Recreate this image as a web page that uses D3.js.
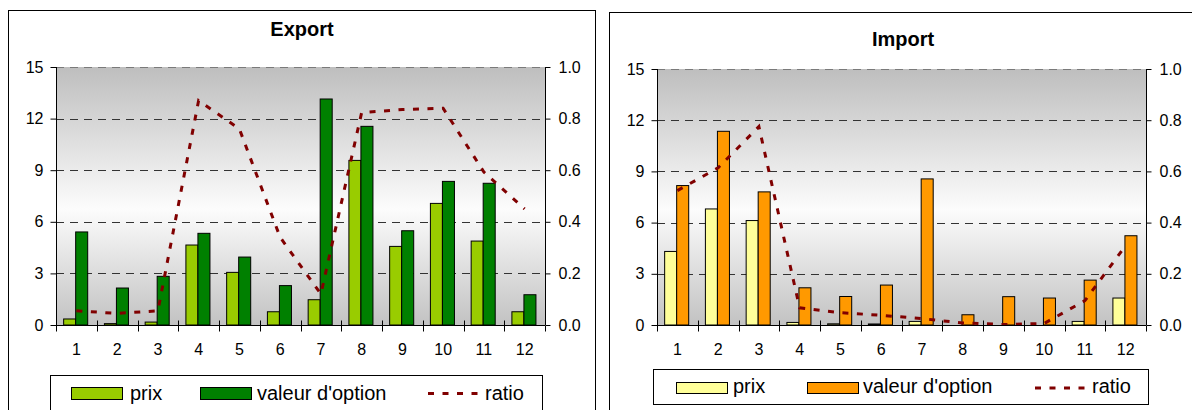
<!DOCTYPE html>
<html>
<head>
<meta charset="utf-8">
<script src="https://cdn.jsdelivr.net/npm/d3@7"></script>
<style>
  html, body { margin: 0; padding: 0; background: #fff; overflow: hidden; }
  svg { display: block; font-family: "Liberation Sans", Arial, sans-serif; }
</style>
</head>
<body>
<svg id="chart" width="1192" height="410"></svg>
<script>
// Months 1..12
const categories = ["1", "2", "3", "4", "5", "6", "7", "8", "9", "10", "11", "12"];

// Export series
const exportPrix   = [0.35, 0.08, 0.17, 4.65, 3.06, 0.77, 1.47, 9.57, 4.57, 7.07, 4.88, 0.77];
const exportValeur = [5.41, 2.15, 2.83, 5.33, 3.95, 2.29, 13.14, 11.55, 5.48, 8.35, 8.24, 1.76];
const exportRatio  = [0.055, 0.045, 0.055, 0.87, 0.76, 0.34, 0.12, 0.823, 0.835, 0.84, 0.593, 0.45];

// Import series
const importPrix   = [4.31, 6.8, 6.12, 0.15, 0.07, 0.06, 0.21, 0.0, 0.0, 0.0, 0.21, 1.58];
const importValeur = [8.17, 11.35, 7.8, 2.18, 1.67, 2.34, 8.56, 0.6, 1.66, 1.58, 2.63, 5.23];
const importRatio  = [0.525, 0.614, 0.775, 0.067, 0.048, 0.038, 0.025, 0.008, 0.002, 0.006, 0.095, 0.31];

// Axis ticks
const valueTicks = [0, 3, 6, 9, 12, 15];
const ratioTicks = [0, 0.2, 0.4, 0.6, 0.8, 1.0];
const legendLabels = ["prix", "valeur d'option", "ratio"];

const svg = d3.select("#chart");
const defs = svg.append("defs");

// Plot-area background: grey at the top, white towards the middle, grey at the bottom
const grad = defs.append("linearGradient")
  .attr("id", "plotBg").attr("x1", 0).attr("y1", 0).attr("x2", 0).attr("y2", 1);
grad.append("stop").attr("offset", "0%").attr("stop-color", "#bebebe");
grad.append("stop").attr("offset", "55%").attr("stop-color", "#fcfcfc");
grad.append("stop").attr("offset", "100%").attr("stop-color", "#c2c2c2");

const RATIO_COLOR = "#800000";

function drawChart(cfg) {
  const g = svg.append("g");
  const p = cfg.plot;

  // Chart frame
  g.append("rect")
    .attr("x", cfg.frame[0]).attr("y", cfg.frame[1])
    .attr("width", cfg.frame[2]).attr("height", cfg.frame[3])
    .attr("fill", "#fff").attr("stroke", "#000").attr("stroke-width", 1);

  // Title
  g.append("text")
    .attr("x", cfg.titleX).attr("y", cfg.titleY)
    .attr("text-anchor", "middle")
    .attr("font-size", 20).attr("font-weight", "bold")
    .text(cfg.title);

  const x = d3.scaleBand().domain(categories).range([p.x0, p.x1]).padding(0);
  const y = d3.scaleLinear().domain([0, 15]).range([p.y1, p.y0]);
  const yr = d3.scaleLinear().domain([0, 1]).range([p.y1, p.y0]);

  // Plot background
  g.append("rect")
    .attr("x", p.x0).attr("y", p.y0)
    .attr("width", p.x1 - p.x0).attr("height", p.y1 - p.y0)
    .attr("fill", "url(#plotBg)");

  // Dashed gridlines
  g.append("g").selectAll("line")
    .data(valueTicks.filter(d => d > 0))
    .join("line")
    .attr("x1", p.x0).attr("x2", p.x1)
    .attr("y1", d => Math.round(y(d)) + 0.5).attr("y2", d => Math.round(y(d)) + 0.5)
    .attr("stroke", d => d === 15 ? "#7a7a7a" : "#333")
    .attr("stroke-width", 1)
    .attr("stroke-dasharray", "8,6");

  // Bars
  const bw = x.bandwidth();
  const barW = bw * 0.295;
  const off = (bw - 2 * barW) / 2 - 0.7;
  const bars = g.append("g");
  bars.selectAll("rect.prix")
    .data(cfg.prix)
    .join("rect").attr("class", "prix")
    .attr("x", (d, i) => x(categories[i]) + off)
    .attr("y", d => y(d))
    .attr("width", barW)
    .attr("height", d => y(0) - y(d))
    .attr("fill", cfg.prixColor).attr("stroke", "#000").attr("stroke-width", 1);
  bars.selectAll("rect.valeur")
    .data(cfg.valeur)
    .join("rect").attr("class", "valeur")
    .attr("x", (d, i) => x(categories[i]) + off + barW)
    .attr("y", d => y(d))
    .attr("width", barW)
    .attr("height", d => y(0) - y(d))
    .attr("fill", cfg.valColor).attr("stroke", "#000").attr("stroke-width", 1);

  // Ratio line on the secondary axis
  const line = d3.line()
    .x((d, i) => x(categories[i]) + bw / 2)
    .y(d => yr(d));
  g.append("path")
    .datum(cfg.ratio)
    .attr("d", line)
    .attr("fill", "none")
    .attr("stroke", RATIO_COLOR)
    .attr("stroke-width", 3)
    .attr("stroke-dasharray", "6,8.5");

  // Left axis
  const yAxis = g.append("g")
    .attr("transform", `translate(${Math.round(p.x0) + 0.5},0)`)
    .call(d3.axisLeft(y).tickValues(valueTicks).tickSize(6).tickPadding(7).tickFormat(d3.format("d")));
  // Right axis
  const yrAxis = g.append("g")
    .attr("transform", `translate(${Math.round(p.x1) + 0.5},0)`)
    .call(d3.axisRight(yr).tickValues(ratioTicks).tickSize(5).tickPadding(8).tickFormat(d3.format(".1f")));
  [yAxis, yrAxis].forEach(a => {
    a.select(".domain").remove();
    a.selectAll(".tick line").attr("stroke", "#000");
    a.selectAll("text").attr("font-size", 16).attr("fill", "#000")
      .attr("font-family", "'Liberation Sans', Arial, sans-serif");
    a.append("line").attr("x1", 0).attr("x2", 0).attr("y1", p.y0).attr("y2", p.y1).attr("stroke", "#000");
  });

  // Bottom axis: labels at band centres, tick marks at band edges
  const xAxis = g.append("g")
    .attr("transform", `translate(0,${Math.round(p.y1) + 0.5})`)
    .call(d3.axisBottom(x).tickSize(0).tickPadding(18.5));
  xAxis.select(".domain").remove();
  xAxis.selectAll("text").attr("font-size", 16).attr("fill", "#000")
    .attr("font-family", "'Liberation Sans', Arial, sans-serif");
  xAxis.append("line").attr("x1", p.x0).attr("x2", p.x1).attr("y1", 0).attr("y2", 0).attr("stroke", "#000");
  const edges = categories.map(c => x(c)).concat([p.x1]);
  xAxis.selectAll("line.edge")
    .data(edges)
    .join("line").attr("class", "edge")
    .attr("x1", d => Math.round(d) + 0.5).attr("x2", d => Math.round(d) + 0.5)
    .attr("y1", (d, i) => (i === 0 || i === edges.length - 1) ? 0 : -5)
    .attr("y2", 6)
    .attr("stroke", "#000");

  // Legend
  const L = cfg.legend;
  const lg = g.append("g");
  lg.append("rect")
    .attr("x", L.box[0]).attr("y", L.box[1]).attr("width", L.box[2]).attr("height", L.box[3])
    .attr("fill", "#fff").attr("stroke", "#000").attr("stroke-width", 1);
  lg.append("rect")
    .attr("x", L.prixX + 0.5).attr("y", L.swY + 0.5).attr("width", 51).attr("height", L.swH)
    .attr("fill", cfg.prixColor).attr("stroke", "#000");
  lg.append("rect")
    .attr("x", L.valX + 0.5).attr("y", L.swY + 0.5).attr("width", 51).attr("height", L.swH)
    .attr("fill", cfg.valColor).attr("stroke", "#000");
  lg.append("line")
    .attr("x1", L.ratioX).attr("x2", L.ratioX + 52)
    .attr("y1", L.swY + L.swH / 2 + 0.5).attr("y2", L.swY + L.swH / 2 + 0.5)
    .attr("stroke", RATIO_COLOR).attr("stroke-width", 3).attr("stroke-dasharray", "6,8.5");
  lg.selectAll("text")
    .data(legendLabels)
    .join("text")
    .attr("x", (d, i) => L.textX[i])
    .attr("y", L.textY)
    .attr("font-size", 20)
    .text(d => d);
}

drawChart({
  title: "Export",
  titleX: 302, titleY: 36,
  frame: [8.5, 10.5, 587, 420],
  plot: { x0: 56, x1: 545, y0: 67, y1: 325 },
  prix: exportPrix, valeur: exportValeur, ratio: exportRatio,
  prixColor: "#99cc00", valColor: "#008000",
  legend: {
    box: [50.5, 375.5, 492, 60],
    prixX: 71, valX: 200, ratioX: 428,
    swY: 387, swH: 12,
    textX: [130, 257, 485], textY: 400
  }
});

drawChart({
  title: "Import",
  titleX: 903, titleY: 46,
  frame: [609.5, 12.5, 600, 420],
  plot: { x0: 657, x1: 1146, y0: 69, y1: 325 },
  prix: importPrix, valeur: importValeur, ratio: importRatio,
  prixColor: "#ffff99", valColor: "#ff9900",
  legend: {
    box: [653.5, 369.5, 495, 35],
    prixX: 676, valX: 807, ratioX: 1035,
    swY: 382, swH: 11,
    textX: [733, 863, 1092], textY: 393
  }
});
</script>
</body>
</html>
